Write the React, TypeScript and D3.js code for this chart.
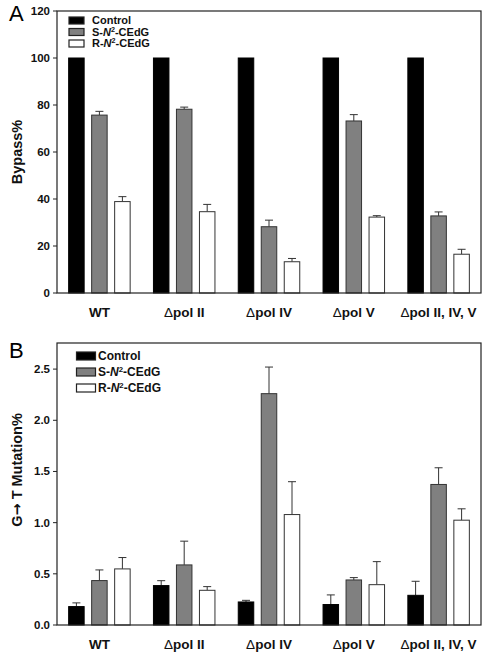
import React from "react";
import * as d3 from "d3";

const groups = ["WT", "pol II", "pol IV", "pol V", "pol II, IV, V"];
const groupDelta = [false, true, true, true, true];
const seriesNames = ["Control", "S", "R"];

// Panel A: bypass %
const bypassControl = [100, 100, 100, 100, 100];
const bypassS = [75.7, 78.2, 28.2, 73.2, 32.8];
const bypassSErr = [1.6, 0.9, 2.8, 2.7, 1.7];
const bypassR = [38.9, 34.6, 13.3, 32.3, 16.5];
const bypassRErr = [2.1, 3.1, 1.4, 0.6, 2.1];
const bypassControlErr = [0, 0, 0, 0, 0];
const bypassTicks = [0, 20, 40, 60, 80, 100, 120];

// Panel B: G->T mutation %
const mutControl = [0.18, 0.385, 0.225, 0.2, 0.29];
const mutControlErr = [0.036, 0.048, 0.016, 0.094, 0.137];
const mutS = [0.434, 0.587, 2.26, 0.44, 1.373];
const mutSErr = [0.104, 0.232, 0.26, 0.023, 0.163];
const mutR = [0.548, 0.339, 1.079, 0.394, 1.024];
const mutRErr = [0.111, 0.036, 0.321, 0.225, 0.111];
const mutTicks = [0, 0.5, 1.0, 1.5, 2.0, 2.5];

const FONT = "'Liberation Sans', Arial, Helvetica, sans-serif";
const fills = ["#000000", "#808080", "#ffffff"];
const strokes = ["#000000", "#333333", "#333333"];

type PanelProps = {
  top: number;
  bottom: number;
  yMax: number;
  ticks: number[];
  tickFmt: (v: number) => string;
  values: number[][];
  errors: number[][];
  letter: string;
  letterY: number;
  yLabel: React.ReactNode;
  yLabelCenter: number;
  legendY: number[];
  legendBoxX: number;
  legendBoxW: number;
  legendBoxH: number;
  legendTextX: number;
  legendFont: number;
};

const LEFT = 57;
const RIGHT = 481;

function Panel(p: PanelProps) {
  const x = d3.scaleBand<string>().domain(groups).range([LEFT, RIGHT]).padding(0);
  const y = d3.scaleLinear().domain([0, p.yMax]).range([p.bottom, p.top]);
  const offsets = [-23, 0, 23];
  const bw = 15.5;
  const sup = p.legendFont * 0.65;
  const legendLabels: React.ReactNode[] = [
    "Control",
    <>
      S-<tspan fontStyle="italic">N</tspan>
      <tspan baselineShift="super" fontSize={sup}>2</tspan>-CEdG
    </>,
    <>
      R-<tspan fontStyle="italic">N</tspan>
      <tspan baselineShift="super" fontSize={sup}>2</tspan>-CEdG
    </>,
  ];
  return (
    <g>
      <text x={9} y={p.letterY} fontSize={22} fontFamily={FONT} fill="#000">
        {p.letter}
      </text>
      {/* bars */}
      {groups.map((g, gi) => {
        const cx = (x(g) as number) + x.bandwidth() / 2;
        return seriesNames.map((s, si) => {
          const v = p.values[si][gi];
          const e = p.errors[si][gi];
          const bx = cx + offsets[si] - bw / 2;
          const by = y(v);
          return (
            <g key={g + s}>
              {e > 0 && (
                <>
                  <line x1={cx + offsets[si]} x2={cx + offsets[si]} y1={by} y2={y(v + e)} stroke="#333" strokeWidth={1} />
                  <line x1={cx + offsets[si] - 4} x2={cx + offsets[si] + 4} y1={y(v + e)} y2={y(v + e)} stroke="#333" strokeWidth={1} />
                </>
              )}
              <rect x={bx} y={by} width={bw} height={p.bottom - by} fill={fills[si]} stroke={strokes[si]} strokeWidth={1} />
            </g>
          );
        });
      })}
      {/* frame */}
      <rect x={LEFT} y={p.top} width={RIGHT - LEFT} height={p.bottom - p.top} fill="none" stroke="#222" strokeWidth={1.2} />
      {/* y ticks */}
      {p.ticks.map((t) => (
        <g key={t}>
          <line x1={LEFT - 4} x2={LEFT} y1={y(t)} y2={y(t)} stroke="#222" strokeWidth={1} />
          <text x={LEFT - 7} y={y(t)} dy="0.35em" textAnchor="end" fontSize={11.5} fontWeight="bold" fontFamily={FONT} fill="#111">
            {p.tickFmt(t)}
          </text>
        </g>
      ))}
      {/* x labels */}
      {groups.map((g, gi) => (
        <text
          key={g}
          x={(x(g) as number) + x.bandwidth() / 2}
          y={p.bottom + 24}
          textAnchor="middle"
          fontSize={13.5}
          fontWeight="bold"
          fontFamily={FONT}
          fill="#111"
        >
          {groupDelta[gi] && <tspan fontWeight="normal">Δ</tspan>}
          {g}
        </text>
      ))}
      {/* y label */}
      <text
        transform={`translate(22,${p.yLabelCenter}) rotate(-90)`}
        textAnchor="middle"
        fontSize={14.5}
        fontWeight="bold"
        fontFamily={FONT}
        fill="#111"
      >
        {p.yLabel}
      </text>
      {/* legend */}
      {seriesNames.map((s, si) => (
        <g key={s}>
          <rect
            x={p.legendBoxX}
            y={p.legendY[si] - p.legendBoxH / 2}
            width={p.legendBoxW}
            height={p.legendBoxH}
            fill={fills[si]}
            stroke="#222"
            strokeWidth={1.2}
          />
          <text x={p.legendTextX} y={p.legendY[si]} dy="0.35em" fontSize={p.legendFont} fontWeight="bold" fontFamily={FONT} fill="#111">
            {legendLabels[si]}
          </text>
        </g>
      ))}
    </g>
  );
}

export default function App() {
  return (
    <svg width={490} height={654} style={{ position: "absolute", left: 0, top: 0, background: "#fff" }}>
      <Panel
        top={11}
        bottom={293}
        yMax={120}
        ticks={bypassTicks}
        tickFmt={(v) => String(v)}
        values={[bypassControl, bypassS, bypassR]}
        errors={[bypassControlErr, bypassSErr, bypassRErr]}
        letter="A"
        letterY={21}
        yLabel="Bypass%"
        yLabelCenter={152}
        legendY={[20.5, 32, 43.5]}
        legendBoxX={69}
        legendBoxW={15}
        legendBoxH={7}
        legendTextX={92}
        legendFont={11}
      />
      <Panel
        top={343}
        bottom={625}
        yMax={2.755}
        ticks={mutTicks}
        tickFmt={(v) => d3.format(".1f")(v)}
        values={[mutControl, mutS, mutR]}
        errors={[mutControlErr, mutSErr, mutRErr]}
        letter="B"
        letterY={358}
        yLabel={
          <>
            G<tspan fontFamily="'DejaVu Sans', sans-serif">→</tspan> T Mutation%
          </>
        }
        yLabelCenter={470}
        legendY={[356, 372, 388]}
        legendBoxX={76.5}
        legendBoxW={19}
        legendBoxH={8}
        legendTextX={98}
        legendFont={12}
      />
    </svg>
  );
}
